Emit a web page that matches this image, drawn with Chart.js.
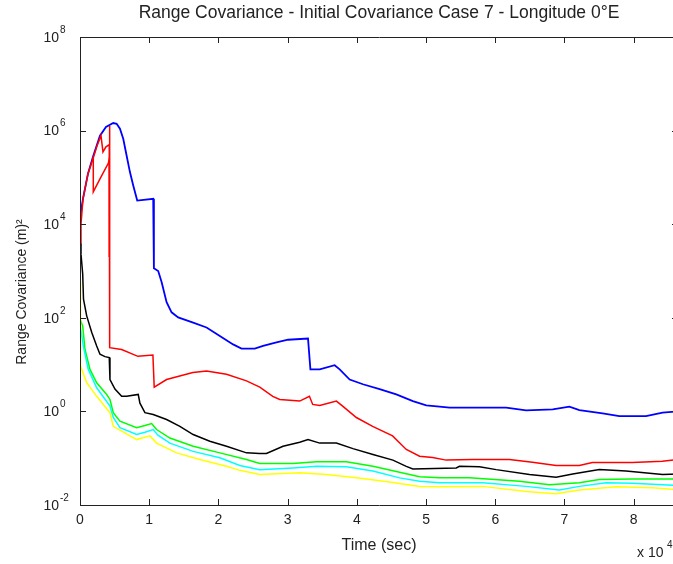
<!DOCTYPE html>
<html>
<head>
<meta charset="utf-8">
<title>Range Covariance</title>
<script src="https://cdn.jsdelivr.net/npm/chart.js@4.4.1/dist/chart.umd.min.js"></script>
<style>
    html, body { margin: 0; padding: 0; background: #fff; overflow: hidden; }
    #wrap { width: 700px; height: 564px; }
</style>
</head>
<body>
<div id="wrap"><canvas id="covChart" width="700" height="564"></canvas></div>
<script>
// Time (sec) / range covariance (m^2) samples for each filter run
const blue = [[0,1.4e4],[433,3.5e4],[1154,1.2e5],[1876,2.75e5],[2886,7.8e5],[3752,1.2e6],[4805,1.45e6],[5296,1.4e6],[5772,1.1e6],[6248,6.7e5],[6739,2.9e5],[7215,1.3e5],[7691,6.7e4],[8268,3.2e4],[10577,3.5e4],[10678,1.14e3],[11299,1.0e3],[11789,580],[12511,215],[13232,131],[14185,102],[16349,79],[18283,62],[20202,41],[22121,27],[23333,22],[25253,22],[26450,25],[28384,30],[30058,34],[32944,36],[33290,7.9],[34632,7.9],[36797,9.7],[37518,7.9],[38961,4.8],[40880,3.8],[43290,3.0],[45700,2.3],[48095,1.66],[50029,1.34],[51948,1.26],[53391,1.2],[61573,1.2],[64459,1.05],[68298,1.1],[70707,1.26],[72150,1.07],[75512,0.91],[77922,0.79],[81775,0.79],[84170,0.94],[86580,1.01]];
const red = [[0,3.8e3],[144,1.0e4],[433,3.5e4],[1154,1.2e5],[1876,2.5e5],[2453,4.7e5],[3030,7.8e5],[3319,3.5e5],[3752,4.5e5],[4228,5.0e5],[4286,1.26e6],[4286,23],[6017,21],[8369,15],[10534,16],[10722,3.3],[12511,4.8],[16306,6.8],[18283,7.3],[21169,6.2],[24055,4.5],[25974,3.3],[27850,2.1],[28860,1.8],[31746,1.66],[33146,2.1],[33622,1.41],[34632,1.34],[37042,1.66],[37951,1.3],[39928,0.74],[42280,0.48],[45166,0.30],[47143,0.154],[49062,0.110],[50938,0.103],[52915,0.091],[56710,0.094],[62049,0.094],[65368,0.082],[68788,0.070],[72144,0.070],[74020,0.081],[79792,0.081],[84121,0.086],[86580,0.094]];
const redReset = [[1919,2.75e5],[1919,4.9e4],[2886,9.3e4],[4084,2.0e5],[4228,2.5e5],[4228,2.0e3]];
const black = [[0,3.8e3],[144,2.3e3],[390,860],[505,250],[967,110],[1688,49],[2410,25],[2886,16.6],[3608,14.8],[4228,14.1],[4329,4.8],[5051,3.0],[6017,2.1],[6739,2.1],[8413,2.3],[8658,1.5],[9380,0.94],[10577,0.86],[12511,0.67],[14430,0.48],[16349,0.32],[18759,0.23],[21169,0.18],[24055,0.13],[25974,0.126],[26941,0.126],[29336,0.18],[31746,0.22],[32944,0.25],[34632,0.21],[37042,0.21],[39438,0.16],[42324,0.12],[45210,0.091],[47143,0.067],[48095,0.059],[54358,0.062],[54834,0.067],[57720,0.066],[60130,0.057],[64935,0.045],[68788,0.039],[71183,0.046],[75036,0.057],[78889,0.053],[84170,0.045],[86580,0.046]];
const green = [[0,93],[390,67],[722,21],[1443,7.9],[2410,4.1],[3853,2.3],[4329,1.8],[4805,0.94],[5772,0.62],[8182,0.45],[9380,0.50],[10346,0.55],[11068,0.41],[12987,0.27],[16349,0.18],[20202,0.13],[24055,0.094],[25974,0.077],[30779,0.077],[34156,0.084],[38485,0.084],[42324,0.067],[46176,0.050],[49062,0.040],[51948,0.038],[56277,0.038],[63492,0.032],[67821,0.027],[72150,0.030],[75036,0.035],[79841,0.036],[86580,0.036]];
const cyan = [[0,73],[476,25],[1198,7.9],[2410,3.2],[4329,1.3],[4805,0.74],[5772,0.45],[8182,0.32],[9380,0.36],[10577,0.41],[11256,0.31],[12987,0.21],[16349,0.14],[20202,0.102],[23088,0.070],[25974,0.057],[30779,0.062],[34156,0.067],[38485,0.066],[42324,0.053],[46176,0.038],[49062,0.032],[51948,0.030],[58196,0.030],[64459,0.025],[69264,0.021],[72150,0.025],[76003,0.030],[79841,0.029],[86580,0.026]];
const yellow = [[0,600],[72,9.3],[967,4.1],[2410,2.1],[4329,0.94],[4805,0.48],[8182,0.25],[10101,0.30],[11068,0.21],[13954,0.13],[17316,0.094],[21169,0.067],[23088,0.055],[25974,0.045],[31746,0.049],[35599,0.045],[39928,0.038],[44733,0.031],[49062,0.025],[51948,0.0245],[58196,0.025],[64459,0.0195],[68788,0.0175],[72150,0.021],[77446,0.0245],[82727,0.0233],[86580,0.021]];

// Axis ticks: x in units of 1e4 sec, y as powers of ten
const xTicks = [0, 1, 2, 3, 4, 5, 6, 7, 8];
const yExponents = [-2, 0, 2, 4, 6, 8];

const FONT = '"Liberation Sans", Arial, sans-serif';

document.addEventListener("DOMContentLoaded", function () {
    const toPoints = (arr) => arr.map((p) => ({ x: p[0], y: p[1] }));

    const line = (data, color, width) => ({
        data: toPoints(data),
        borderColor: color,
        borderWidth: width,
        pointRadius: 0,
        tension: 0,
        fill: false,
    });

    // Draws the MATLAB-style box, inward ticks and all axis text
    const axesBox = {
        id: "axesBox",
        afterDraw(chart) {
            const ctx = chart.ctx;
            const area = chart.chartArea;
            const xs = chart.scales.x;
            const ys = chart.scales.y;
            const tick = 6;

            ctx.save();
            ctx.strokeStyle = "#222";
            ctx.lineWidth = 1;
            ctx.beginPath();
            ctx.rect(Math.round(area.left) + 0.5, Math.round(area.top) + 0.5,
                Math.round(area.right - area.left), Math.round(area.bottom - area.top));

            xTicks.forEach((t) => {
                const px = Math.round(xs.getPixelForValue(t * 1e4)) + 0.5;
                ctx.moveTo(px, area.bottom);
                ctx.lineTo(px, area.bottom - tick);
                ctx.moveTo(px, area.top);
                ctx.lineTo(px, area.top + tick);
            });
            yExponents.forEach((e) => {
                const py = Math.round(ys.getPixelForValue(Math.pow(10, e))) + 0.5;
                ctx.moveTo(area.left, py);
                ctx.lineTo(area.left + tick, py);
                ctx.moveTo(area.right, py);
                ctx.lineTo(area.right - tick, py);
            });
            ctx.stroke();

            ctx.fillStyle = "#222";

            // x tick labels
            ctx.font = "14px " + FONT;
            ctx.textAlign = "center";
            ctx.textBaseline = "top";
            xTicks.forEach((t) => {
                ctx.fillText(String(t), xs.getPixelForValue(t * 1e4), area.bottom + 8);
            });

            // y tick labels: 10 with a raised exponent
            yExponents.forEach((e) => {
                const py = ys.getPixelForValue(Math.pow(10, e));
                ctx.font = "14px " + FONT;
                ctx.textAlign = "right";
                ctx.textBaseline = "middle";
                ctx.fillText("10", area.left - 21, py + 1);
                ctx.font = "10px " + FONT;
                ctx.textAlign = "left";
                ctx.fillText(String(e), area.left - 20, py - 7);
            });

            // title
            ctx.font = "17.5px " + FONT;
            ctx.textAlign = "center";
            ctx.textBaseline = "middle";
            ctx.fillText("Range Covariance - Initial Covariance Case 7 - Longitude 0°E", (area.left + area.right) / 2, 13);

            // x axis label and exponent
            ctx.font = "16px " + FONT;
            ctx.fillText("Time (sec)", (area.left + area.right) / 2, 546);
            ctx.font = "14px " + FONT;
            ctx.textAlign = "left";
            ctx.fillText("x 10", 637, 553);
            ctx.font = "10px " + FONT;
            ctx.fillText("4", 667, 545);

            // y axis label
            ctx.translate(22, 292);
            ctx.rotate(-Math.PI / 2);
            ctx.font = "14px " + FONT;
            ctx.textAlign = "center";
            ctx.fillText("Range Covariance (m)²", 0, 0);
            ctx.restore();
        },
    };

    const ctx = document.getElementById("covChart").getContext("2d");
    new Chart(ctx, {
        type: "line",
        data: {
            datasets: [
                line(yellow, "#ffff00", 1.5),
                line(cyan, "#00ffff", 1.5),
                line(green, "#00ff00", 1.5),
                line(black, "#000000", 1.5),
                line(redReset, "#ff0000", 1.5),
                line(red, "#ff0000", 1.5),
                line(blue, "#0000ff", 1.8),
            ],
        },
        options: {
            responsive: false,
            animation: false,
            events: [],
            layout: { padding: { left: 80, right: 22, top: 37, bottom: 59 } },
            plugins: {
                legend: { display: false },
                tooltip: { enabled: false },
                title: { display: false },
            },
            scales: {
                x: { type: "linear", min: 0, max: 86400, display: false },
                y: { type: "logarithmic", min: 1e-2, max: 1e8, display: false },
            },
        },
        plugins: [axesBox],
    });
});
</script>
</body>
</html>
